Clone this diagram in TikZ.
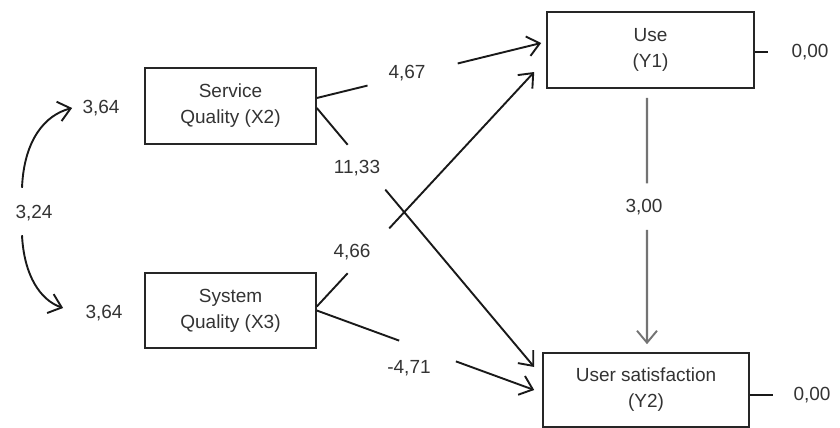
\documentclass[tikz,border=0pt]{standalone}
\usepackage{fontspec}
\setmainfont{Liberation Sans}
\usetikzlibrary{arrows.meta,calc}

\begin{document}
\begin{tikzpicture}[x=0.5pt,y=-0.5pt,
    box/.style={draw=black!85, line width=0.8pt, inner sep=0pt, align=center,
        text=black!80, font=\fontsize{9.5}{13}\selectfont},
    coef/.style={inner sep=0pt, text=black!80, font=\fontsize{9.5}{13}\selectfont},
    link/.style={line width=0.95pt, draw=black!90},
    arr/.style={-{Straight Barb[length=6pt,width=10pt,line width=0.95pt]}}]

    \useasboundingbox (0,0) rectangle (840,428);

    % 四个变量框
    \node[box, minimum width=85.5pt, minimum height=38pt] (X2) at (230.5,106) {Service\\Quality (X2)};
    \node[box, minimum width=85.5pt, minimum height=37.5pt] (X3) at (230.5,310.5) {System\\Quality (X3)};
    \node[box, minimum width=103.5pt, minimum height=38pt] (Y1) at (650.5,50) {Use\\(Y1)};
    \node[box, minimum width=103pt, minimum height=37pt] (Y2) at (646,390) {User satisfaction\\(Y2)};

    % 方差与协方差
    \node[coef] (v2) at (101,108) {3,64};
    \node[coef] (v3) at (104,313) {3,64};
    \node[coef] (c) at (34,213) {3,24};

    % 路径系数
    \node[coef] (l1) at (407,73) {4,67};
    \node[coef] (l2) at (357,168) {11,33};
    \node[coef] (l3) at (352,252) {4,66};
    \node[coef] (l4) at (409,368) {-4,71};
    \node[coef] (l5) at (644,207) {3,00};

    % 残差
    \node[coef] (e1) at (810,52) {0,00};
    \node[coef] (e2) at (812,395) {0,00};

    % 协方差弧线
    \draw[link, arr] ($(c.north)+(-12,-17)$) .. controls +(2,-48) and +(-27,7) .. ($(v2.west)+(-10,0)$);
    \draw[link, arr] ($(c.south)+(-12,14)$) .. controls +(2,40) and +(-23,-8) .. ($(v3.west)+(-22,-5)$);

    % X2 -> Y1
    \coordinate (s1) at ($(X2.east)+(0,-8)$);
    \coordinate (t1) at ($(Y1.west)+(-5,-7)$);
    \draw[link] (s1) -- ($(s1)!0.226!(t1)$);
    \draw[link, arr] ($(s1)!0.628!(t1)$) -- (t1);

    % X2 -> Y2
    \coordinate (s2) at ($(X2.east)+(0,2)$);
    \coordinate (t2) at ($(Y2.west)+(-8,-23)$);
    \draw[link] (s2) -- ($(s2)!0.142!(t2)$);
    \draw[link, arr] ($(s2)!0.315!(t2)$) -- (t2);

    % X3 -> Y1
    \coordinate (s3) at ($(X3.east)+(0,-4)$);
    \coordinate (t3) at ($(Y1.west)+(-12,22)$);
    \draw[link] (s3) -- ($(s3)!0.142!(t3)$);
    \draw[link, arr] ($(s3)!0.333!(t3)$) -- (t3);

    % X3 -> Y2
    \coordinate (s4) at ($(X3.east)+(0,0)$);
    \coordinate (t4) at ($(Y2.west)+(-8,0)$);
    \draw[link] (s4) -- ($(s4)!0.379!(t4)$);
    \draw[link, arr] ($(s4)!0.64!(t4)$) -- (t4);

    % Y1 -> Y2
    \coordinate (s5) at ($(Y1.south)+(-3.5,9)$);
    \coordinate (t5) at ($(Y2.north)+(1,-8)$);
    \draw[link, draw=black!55, line width=1.2pt] (s5) -- ($(s5)!0.347!(t5)$);
    \draw[link, draw=black!55, line width=1.2pt, arr] ($(s5)!0.536!(t5)$) -- (t5);

    % 残差短线
    \draw[link, shorten >=11.5pt] (Y1.east |- e1.west) -- (e1.west);
    \draw[link, shorten >=10pt] (Y2.east |- e2.west) -- (e2.west);

\end{tikzpicture}
\end{document}
